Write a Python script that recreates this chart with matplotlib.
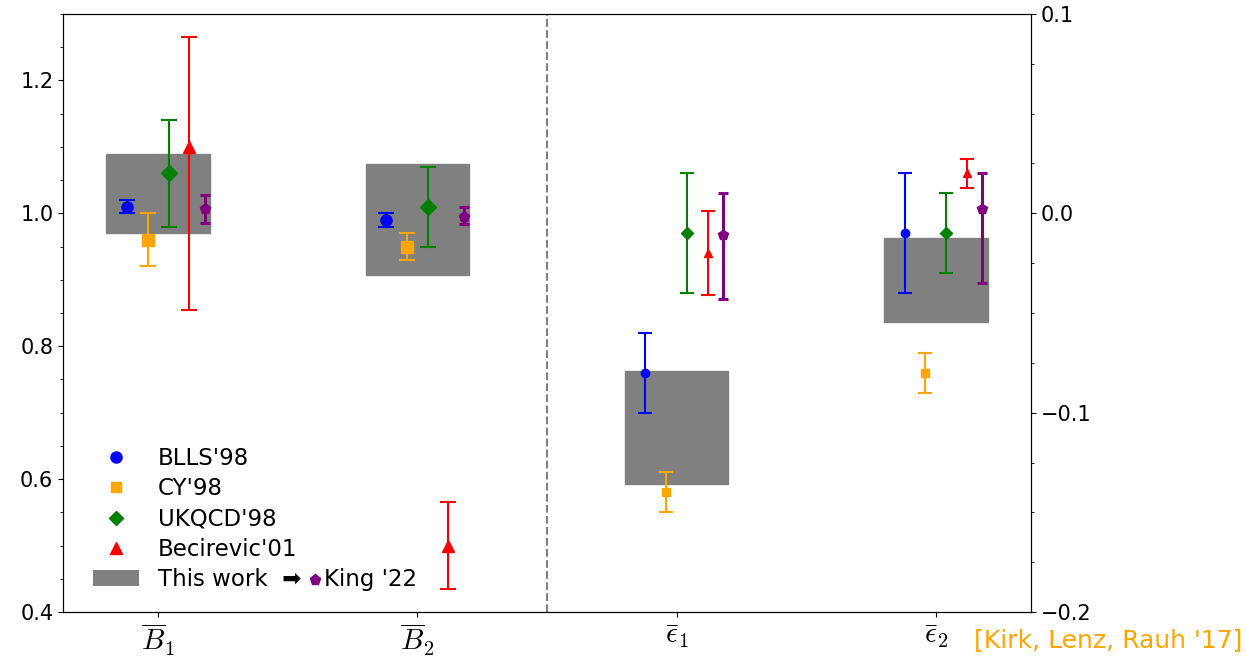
import matplotlib
matplotlib.use("Agg")
import matplotlib.pyplot as plt
from matplotlib.lines import Line2D
from matplotlib.patches import Patch, Rectangle

plt.rcParams['mathtext.fontset'] = 'cm'

# category labels (x positions 0..3)
tick_labels = [r'$\overline{B}_1$', r'$\overline{B}_2$', r'$\bar{\epsilon}_1$', r'$\bar{\epsilon}_2$']

# bag parameters B1, B2 (left axis)
blls_B = [1.01, 0.99]
blls_B_err = [0.01, 0.01]
cy_B = [0.96, 0.95]
cy_B_err = [0.04, 0.02]
ukqcd_B = [1.06, 1.01]
ukqcd_B_err = [0.08, 0.06]
bec_B = [1.10, 0.50]
bec_B_lo = [0.245, 0.065]
bec_B_hi = [0.165, 0.065]
king_B = [1.006, 0.995]
king_B_lo = [0.020, 0.011]
king_B_hi = [0.022, 0.014]
this_B_lo = [0.970, 0.907]
this_B_hi = [1.090, 1.074]

# eps1, eps2 (right axis)
blls_e = [-0.08, -0.01]
blls_e_err = [0.02, 0.03]
cy_e = [-0.14, -0.08]
cy_e_err = [0.01, 0.01]
ukqcd_e = [-0.01, -0.01]
ukqcd_e_err = [0.03, 0.02]
bec_e = [-0.02, 0.02]
bec_e_err = [0.021, 0.0075]
king_e = [-0.011, 0.002]
king_e_lo = [0.032, 0.037]
king_e_hi = [0.021, 0.018]
this_e_lo = [-0.136, -0.0545]
this_e_hi = [-0.079, -0.0125]

fig = plt.figure(figsize=(12.46, 6.6), dpi=100)
ax = fig.add_axes([0.0506, 0.0727, 0.7768, 0.9061])
ax2 = ax.twinx()

box_w = 0.4
for i in range(2):
    ax.add_patch(Rectangle((i - box_w / 2, this_B_lo[i]), box_w, this_B_hi[i] - this_B_lo[i],
                           color='gray', zorder=1))
    ax2.add_patch(Rectangle((i + 2 - box_w / 2, this_e_lo[i]), box_w, this_e_hi[i] - this_e_lo[i],
                            color='gray', zorder=1))

xB = [0, 1]
xe = [2, 3]

def bars(a, xs, off, y, lo, hi, color, marker, ms, cs, lw=1.5):
    a.errorbar([x + off for x in xs], y, yerr=[lo, hi], fmt=marker, color=color, ms=ms,
               capsize=cs, elinewidth=lw, capthick=lw, zorder=3)

bars(ax, xB, -0.12, blls_B, blls_B_err, blls_B_err, 'blue', 'o', 8, 6)
bars(ax, xB, -0.04, cy_B, cy_B_err, cy_B_err, 'orange', 's', 8, 6)
bars(ax, xB, 0.04, ukqcd_B, ukqcd_B_err, ukqcd_B_err, 'green', 'D', 8, 6)
bars(ax, xB, 0.12, bec_B, bec_B_lo, bec_B_hi, 'red', '^', 8, 6)
bars(ax, xB, 0.18, king_B, king_B_lo, king_B_hi, 'purple', 'p', 8, 3.5, 2.2)

bars(ax2, xe, -0.12, blls_e, blls_e_err, blls_e_err, 'blue', 'o', 6, 5)
bars(ax2, xe, -0.04, cy_e, cy_e_err, cy_e_err, 'orange', 's', 6, 5)
bars(ax2, xe, 0.04, ukqcd_e, ukqcd_e_err, ukqcd_e_err, 'green', 'D', 6, 5)
bars(ax2, xe, 0.12, bec_e, bec_e_err, bec_e_err, 'red', '^', 6, 5)
bars(ax2, xe, 0.18, king_e, king_e_lo, king_e_hi, 'purple', 'p', 7, 3.5, 2.2)

ax.axvline(1.5, color='gray', ls='--', lw=1.5)

ax.set_xlim(-0.367, 3.367)
ax.set_ylim(0.4, 1.3)
ax2.set_ylim(-0.2, 0.1)
ax.set_xticks(range(4))
ax.set_xticklabels(tick_labels, fontsize=21)
ax.set_yticks([0.4, 0.6, 0.8, 1.0, 1.2])
ax.set_yticks([0.4 + 0.05 * k for k in range(19)], minor=True)
ax2.set_yticks([-0.2, -0.1, 0.0, 0.1])
ax2.set_yticks([-0.2 + 0.025 * k for k in range(13)], minor=True)
ax.tick_params(axis='y', labelsize=15)
ax2.tick_params(axis='y', labelsize=15)

handles = [
    Line2D([], [], ls='none', marker='o', color='blue', ms=8),
    Line2D([], [], ls='none', marker='s', color='orange', ms=7),
    Line2D([], [], ls='none', marker='D', color='green', ms=7),
    Line2D([], [], ls='none', marker='^', color='red', ms=8),
    Patch(facecolor='gray'),
]
names = ["BLLS'98", "CY'98", "UKQCD'98", "Becirevic'01", "This work  \u27a1"]
leg = ax.legend(handles, names, loc='lower left', bbox_to_anchor=(0.01, 0.0),
                frameon=False, fontsize=16.5, labelspacing=0.32)

# purple pentagon + King '22 after the last legend entry
fig.canvas.draw()
bb = leg.get_texts()[-1].get_window_extent()
inv = fig.transFigure.inverted()
x1, y0 = inv.transform((bb.x1, bb.y0))
_, y1 = inv.transform((bb.x1, bb.y1))
ym = (y0 + y1) / 2
fig.add_artist(Line2D([x1 + 14 / 1246], [ym], marker='p', color='purple', ms=8,
                      transform=fig.transFigure))
fig.text(x1 + 23 / 1246, ym, "King '22", fontsize=16.5, va='center', ha='left')

fig.text(0.997, 0.030, "[Kirk, Lenz, Rauh '17]", color='orange', fontsize=18,
         ha='right', va='center')

fig.savefig('out.png', dpi=100)
